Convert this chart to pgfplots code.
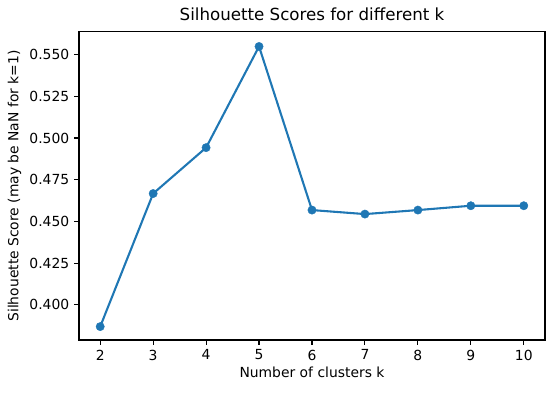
\documentclass[border=0pt]{standalone}
\usepackage{fontspec}
\setmainfont{DejaVu Sans}
\usepackage{pgfplots}
\pgfplotsset{compat=1.18}
\definecolor{mplblue}{HTML}{1F77B4}
\begin{document}
\begin{tikzpicture}
\begin{axis}[
  scale only axis,
  width=335.5pt, height=221.8pt,
  xmin=1.6, xmax=10.4,
  ymin=0.3790, ymax=0.5635,
  xtick={2,3,4,5,6,7,8,9,10},
  ytick={0.400,0.425,0.450,0.475,0.500,0.525,0.550},
  yticklabels={0.400,0.425,0.450,0.475,0.500,0.525,0.550},
  xtick pos=lower, ytick pos=left,
  tick align=outside,
  major tick length=3.5pt,
  every tick/.style={black, line width=0.8pt},
  axis line style={line width=0.8pt},
  /pgf/number format/assume math mode=true,
  tick label style={font=\fontsize{10}{12}\selectfont},
  label style={font=\fontsize{10}{12}\selectfont},
  title style={font=\fontsize{12}{14}\selectfont, yshift=-1.5pt},
  title={Silhouette Scores for different k},
  xlabel={Number of clusters k},
  ylabel={Silhouette Score (may be NaN for k=1)},
  xlabel style={yshift=2pt},
  ylabel style={yshift=-1pt},
]
\addplot[color=mplblue, line width=1.5pt, mark=*, mark size=3pt, mark options={solid, fill=mplblue, draw=mplblue, line width=0.3pt}]
coordinates {
(2,0.3870) (3,0.4667) (4,0.4942) (5,0.5548) (6,0.4568) (7,0.4544) (8,0.4568) (9,0.4594) (10,0.4594)
};
\end{axis}
\path ([xshift=-56.9pt,yshift=-38.2pt]current axis.south west) rectangle ([xshift=5.8pt,yshift=23pt]current axis.north east);
\end{tikzpicture}
\end{document}
